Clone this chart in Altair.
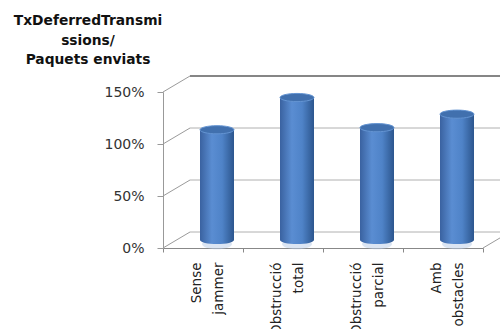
import altair as alt
import pandas as pd

# Chart data
categories = ["Sense jammer", "Obstrucció total", "Obstrucció parcial", "Amb obstacles"]
values = [1.06, 1.37, 1.08, 1.21]
tick_values = [0.0, 0.5, 1.0, 1.5]
title_lines = ["TxDeferredTransmi", "ssions/", "Paquets enviats"]

bars = pd.DataFrame({"cat": categories, "v": values})
grid = pd.DataFrame({"v": tick_values})

W, H = 337, 188
DX, DY = 27, -16  # depth shift of the back wall

xs = alt.Scale(domain=categories, range=[0, 320], paddingInner=0, paddingOuter=0)
ys = alt.Scale(domain=[0, 1.5], range=[H, 32])

x_axis = alt.Axis(
    title=None, labelAngle=-90, tickBand="extent", tickSize=4, labelPadding=10,
    labelOffset=-7,
    domainColor="#888888", tickColor="#888888", labelColor="#222222",
    labelFont="DejaVu Sans", labelFontSize=13.5, labelLineHeight=22,
    labelExpr="split(datum.label, ' ')",
)
y_axis = alt.Axis(
    title=None, values=tick_values, format=".0%", tickSize=6, labelPadding=13,
    domainColor="#999999", tickColor="#999999", labelColor="#333333",
    labelFont="DejaVu Sans", labelFontSize=14, grid=False,
)

X = alt.X("cat:N", scale=xs, axis=x_axis, sort=categories)


def Y(field):
    return alt.Y(field, scale=ys, axis=y_axis)


body = alt.LinearGradient(
    gradient="linear", x1=0, x2=1, y1=0, y2=0,
    stops=[
        alt.GradientStop(offset=0, color="#3a62a0"),
        alt.GradientStop(offset=0.35, color="#5a8dd2"),
        alt.GradientStop(offset=0.65, color="#4f83c8"),
        alt.GradientStop(offset=1, color="#2c568e"),
    ],
)

# back wall grid lines
back_grid = alt.Chart(grid).mark_rule(yOffset=DY, y2Offset=DY).encode(
    x=alt.value(DX), x2=alt.value(W + 5),
    y=Y("v:Q"),
    color=alt.condition("datum.v == 1.5", alt.value("#868686"), alt.value("#b0b0b0")),
    strokeWidth=alt.condition("datum.v == 1.5", alt.value(2), alt.value(1)),
)

# side-wall diagonals from the front ticks
diag = alt.Chart(grid).mark_rule(color="#9a9a9a", y2Offset=DY).encode(
    x=alt.value(0), x2=alt.value(DX),
    y=Y("v:Q"),
    y2="v:Q",
)

floor_edge = alt.Chart(pd.DataFrame({"v": [0.0]})).mark_rule(color="#9a9a9a", y2Offset=DY).encode(
    x=alt.value(320), x2=alt.value(320 + DX),
    y=Y("v:Q"),
    y2="v:Q",
)

reflection = alt.Chart(bars).transform_calculate(z="0").mark_point(
    shape="M -1 0 A 1 0.35 0 1 1 1 0 A 1 0.35 0 1 1 -1 0 Z",
    filled=True, opacity=0.5, size=900, color="#b8cbe8", xOffset=14, yOffset=-4,
).encode(x=X, y=Y("z:Q"))

bottom_cap = alt.Chart(bars).transform_calculate(z="0").mark_point(
    shape="M -1 0 A 1 0.24 0 0 0 1 0 Z",
    filled=True, opacity=1, size=34 * 34, color=body, xOffset=14, yOffset=-8,
).encode(x=X, y=Y("z:Q"))

body_bar = alt.Chart(bars).mark_bar(width=34, color=body, xOffset=14, yOffset=-8).encode(
    x=X, y=Y("v:Q"),
)

top_cap = alt.Chart(bars).mark_point(
    shape="M -1 0 A 1 0.24 0 1 1 1 0 A 1 0.24 0 1 1 -1 0 Z",
    filled=True, opacity=1, size=34 * 34, fill="#4170ae", stroke="#6494d2", strokeWidth=1,
    xOffset=14, yOffset=-8,
).encode(x=X, y=Y("v:Q"))

title = alt.Chart(pd.DataFrame({"k": [0]})).mark_text(
    text=title_lines, font="DejaVu Sans", fontWeight="bold", fontSize=13.8,
    lineHeight=19.5, align="center", baseline="top", color="#111111",
).encode(x=alt.value(-75), y=alt.value(-46))

chart = alt.layer(
    back_grid, diag, floor_edge, reflection, bottom_cap, body_bar, top_cap, title
).properties(
    width=W, height=H,
    autosize=alt.AutoSizeParams(type="none"),
    padding={"left": 163, "top": 60, "right": 0, "bottom": 81},
    background="white",
).configure_view(stroke=None)

chart.save("out.html", embed_options={"renderer": "svg", "actions": False})
